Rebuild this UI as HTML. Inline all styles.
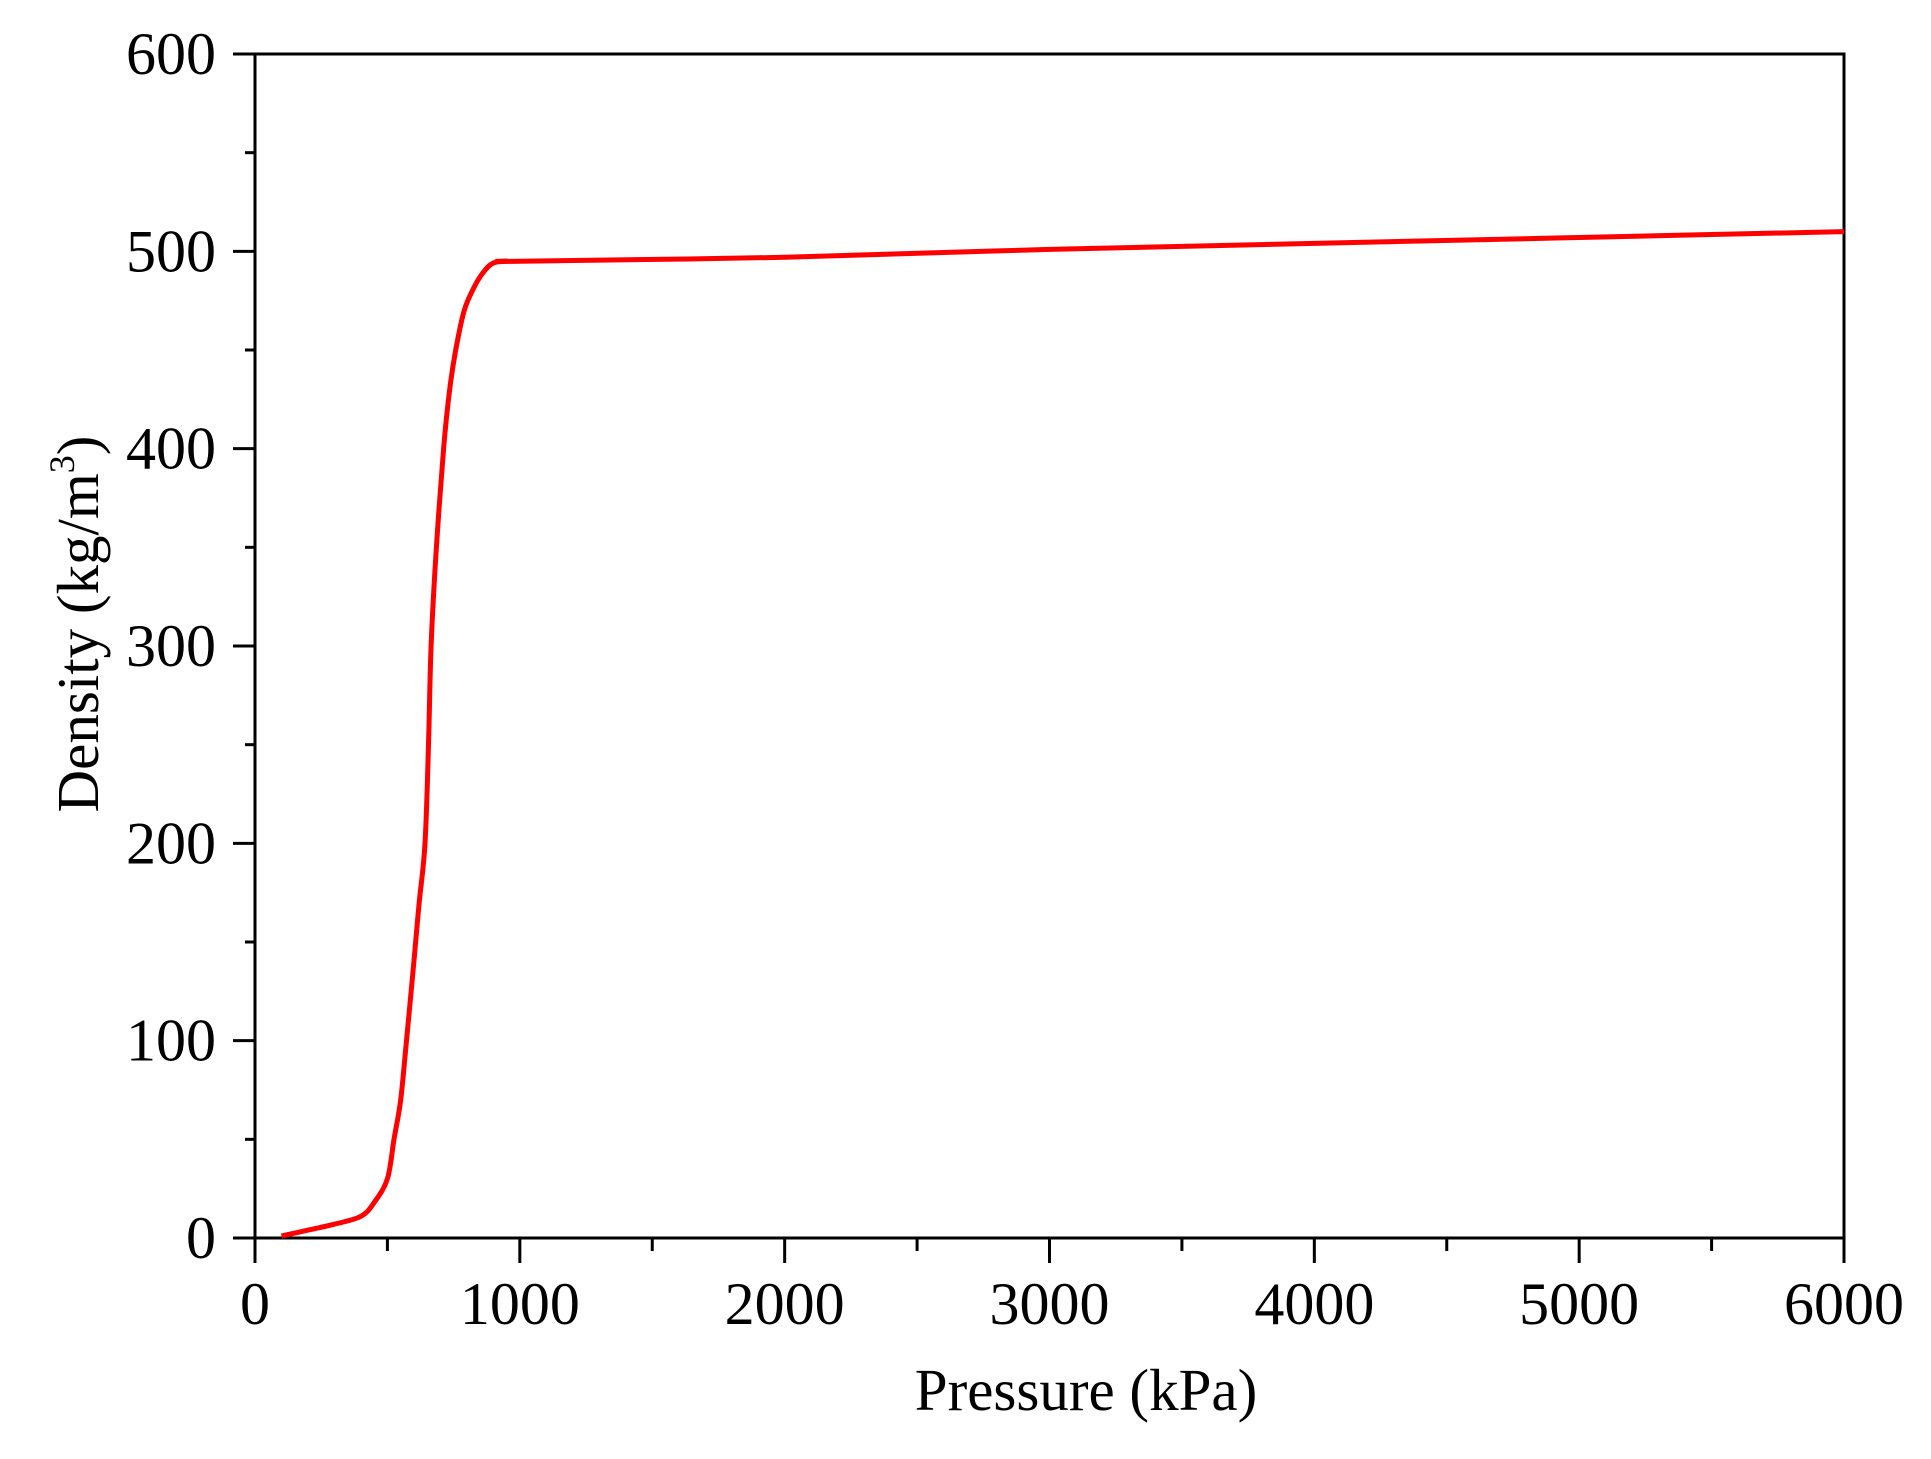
<!DOCTYPE html>
<html><head><meta charset="utf-8"><style>
html,body{margin:0;padding:0;background:#fff;}
svg{display:block;}
text{font-family:"Liberation Serif",serif;fill:#000;}
</style></head><body>
<svg id="chart" width="1931" height="1459" viewBox="0 0 1931 1459" xmlns="http://www.w3.org/2000/svg">
<g id="axes"></g>
<g id="series"></g>
<text x="1086" y="1410" font-size="59" text-anchor="middle">Pressure (kPa)</text>
<text transform="translate(98,624) rotate(-90)" font-size="59" text-anchor="middle">Density (kg/m<tspan dy="-24" font-size="36">3</tspan><tspan dy="24">)</tspan></text>
</svg>
<script>
const xTicks = [0,1000,2000,3000,4000,5000,6000];
const yTicks = [0,100,200,300,400,500,600];
const pressure = [100,200,300,400,450,500,525,550,572,600,620,642,655,665,685,712,735,758,790,828,860,898,950,1000,2000,3000,4000,5000,6000];
const density = [1,4,7,11,18,30,50,70,100,140,170,200,250,300,350,400,430,450,470,482,489,494,495,495,497,501,504,507,510];

const X0=255, X1=1844, Y0=1238, Y1=54;
const xs = v => X0 + (v-0)/(6000-0)*(X1-X0);
const ys = v => Y0 - (v-0)/(600-0)*(Y0-Y1);
const NS="http://www.w3.org/2000/svg";
const axes=document.getElementById('axes');
function mk(tag,attrs,parent){const e=document.createElementNS(NS,tag);for(const k in attrs)e.setAttribute(k,attrs[k]);parent.appendChild(e);return e;}

const frame=mk('rect',{x:X0,y:Y1,width:X1-X0,height:Y0-Y1,fill:'none',stroke:'#000','stroke-width':3},axes);



for(let i=0;i<xTicks.length;i++){
  const v=xTicks[i];
  const t=mk('line',{x1:xs(v),x2:xs(v),y1:Y0,y2:Y0+25,stroke:'#000','stroke-width':3},axes);
  
  
  const l=mk('text',{x:xs(v),y:1324,'font-size':60,'text-anchor':'middle'},axes);
  l.textContent=v;
  
  
  if(i<xTicks.length-1){
    const m=(v+xTicks[i+1])/2;
    const mt=mk('line',{x1:xs(m),x2:xs(m),y1:Y0,y2:Y0+13,stroke:'#000','stroke-width':3},axes);
    
    
  }
}
for(let i=0;i<yTicks.length;i++){
  const v=yTicks[i];
  const t=mk('line',{x1:X0-22,x2:X0,y1:ys(v),y2:ys(v),stroke:'#000','stroke-width':3},axes);
  
  
  const l=mk('text',{x:216,y:ys(v)+20,'font-size':60,'text-anchor':'end'},axes);
  l.textContent=v;
  
  
  if(i<yTicks.length-1){
    const m=(v+yTicks[i+1])/2;
    const mt=mk('line',{x1:X0-10,x2:X0,y1:ys(m),y2:ys(m),stroke:'#000','stroke-width':3},axes);
    
    
  }
}
const P=pressure.map((p,i)=>[xs(p),ys(density[i])]);
let d='M'+P[0][0].toFixed(1)+','+P[0][1].toFixed(1);
for(let i=0;i<P.length-1;i++){
  const p0=P[Math.max(0,i-1)],p1=P[i],p2=P[i+1],p3=P[Math.min(P.length-1,i+2)];
  const c1=[p1[0]+(p2[0]-p0[0])/6,p1[1]+(p2[1]-p0[1])/6];
  const c2=[p2[0]-(p3[0]-p1[0])/6,p2[1]-(p3[1]-p1[1])/6];
  d+=' C'+c1[0].toFixed(1)+','+c1[1].toFixed(1)+' '+c2[0].toFixed(1)+','+c2[1].toFixed(1)+' '+p2[0].toFixed(1)+','+p2[1].toFixed(1);
}
const line=mk('path',{d:d,fill:'none',stroke:'#ff0000','stroke-width':5,'stroke-linejoin':'round'},document.getElementById('series'));


</script>
</body></html>
